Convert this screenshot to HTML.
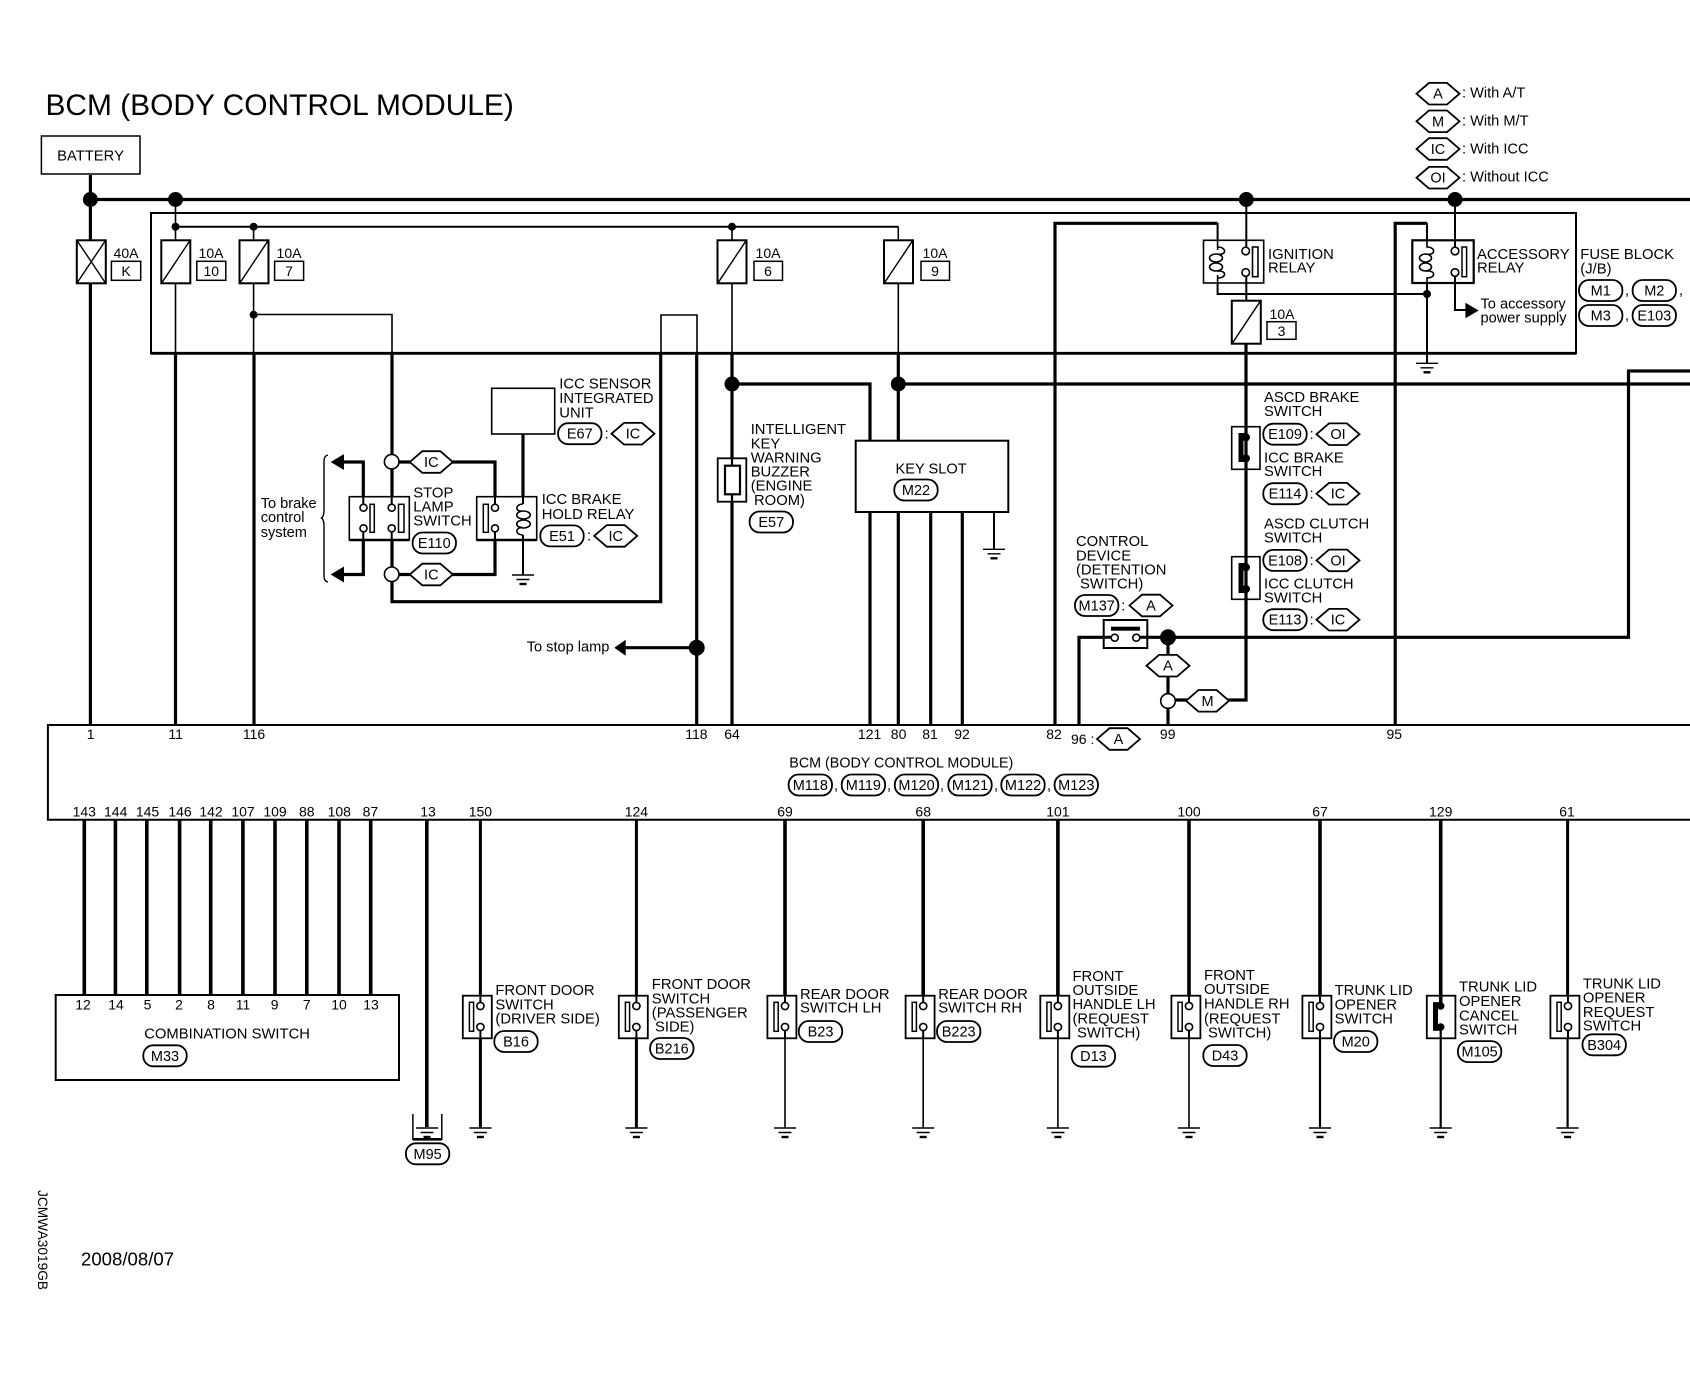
<!DOCTYPE html>
<html><head><meta charset="utf-8"><title>BCM (BODY CONTROL MODULE)</title>
<style>
html,body{margin:0;padding:0;background:#fff;width:1690px;height:1376px;overflow:hidden}
svg{display:block}
text{font-family:"Liberation Sans",sans-serif;fill:#000;font-size:14.8px}
.c{text-anchor:middle;font-size:14.5px}
.n{text-anchor:middle;font-size:14px}
.w{fill:none;stroke:#000}
.b{fill:#fff;stroke:#000;stroke-width:1.6}
</style></head><body>
<svg width="1690" height="1376" viewBox="0 0 1690 1376" xmlns="http://www.w3.org/2000/svg">
<defs>
<polygon id="h" points="-21.5,0 -9,-10.8 9,-10.8 21.5,0 9,10.8 -9,10.8" fill="#fff" stroke="#000" stroke-width="1.8"/>
<rect id="p" x="-21.7" y="-10.5" width="43.4" height="21" rx="10" ry="10" fill="#fff" stroke="#000" stroke-width="1.8"/>
<g id="g"><path d="M-11,0H11M-6.5,4.5H6.5" stroke="#000" stroke-width="1.4" fill="none"/><path d="M-3.5,9H3.5" stroke="#000" stroke-width="2.4" fill="none"/></g>
<g id="s"><rect x="-17.6" y="0" width="29" height="42.6" fill="#fff" stroke="#000" stroke-width="1.8"/><rect x="-11" y="6.6" width="4.2" height="29" fill="#fff" stroke="#000" stroke-width="1.5"/><path d="M0,0V7M0,34.5V42.6" stroke="#000" stroke-width="2" fill="none"/><circle cx="0" cy="10.3" r="3.6" fill="#fff" stroke="#000" stroke-width="1.6"/><circle cx="0" cy="31.3" r="3.6" fill="#fff" stroke="#000" stroke-width="1.6"/></g>
<g id="f"><rect x="-14.5" y="0" width="29" height="43" fill="#fff" stroke="#000" stroke-width="2"/><path d="M-14,42.5L14,0.5" stroke="#000" stroke-width="1.4"/></g>
</defs>

<!-- fuse block and BCM box -->
<rect x="151" y="213" width="1425" height="140.3" fill="none" stroke="#000" stroke-width="2"/>
<path class="w" stroke-width="2.8" d="M151,353.3H1576"/>
<path class="w" stroke-width="2" d="M1690,725H47.9V819.7H1690"/>

<!-- thin wires -->
<path class="w" stroke-width="1.6" d="M175.5,199V283M175.5,283V353M253.6,226.7V240M253.6,283V353M253.6,314.5H392V353M661,353V315H697V353M732,226.7V458M898.3,226.7V240M898.3,283V353"/>
<path class="w" stroke-width="2" d="M175.5,226.7H898.3M1246.3,199V240M1246.3,283V300.7M1455,199V240M1455,283V310H1466M1217.6,223V294H1427M1427,223V363M523,540V575M994,512V549"/>
<!-- thick wires -->
<path class="w" stroke-width="3.2" d="M90.4,175V725M90.4,199.5H1690M175.5,353V725M254,353V725M392,353V497M392,540V601.7H660.7V353M696.7,353V725M625,647.7H696.7M523,434V497M363.3,497V462H344M363.3,540V574.5H344M399,462H495V497M399,574.5H495V540M732,353V458M732,501V725M732,384H870V441M870,512V725M898.3,353V441M898.3,512V725M898.3,384H1690M930.7,512V725M962.3,512V725M1055,725V223.3H1217.6M1395.2,725V223.3H1427M1246,343V700H1176M1079,725V637.3H1628.5V371H1690M1168,637V725"/>
<path class="w" stroke-width="3.6" d="M84.3,820V995M115.4,820V995M146.8,820V995M179.6,820V995M210.7,820V995M242.9,820V995M275,820V995M306.8,820V995M339,820V995M370.7,820V995M426.8,820V1127M785,820V996M923.2,820V996M1057.9,820V996M1189,820V996M1320,820V996M1440.7,820V1003"/>
<path class="w" stroke-width="3" d="M480.4,820V1128M636.4,820V1128M1567.6,820V996"/>
<path class="w" stroke-width="1.6" d="M785,1038V1128M923.2,1038V1128M1057.9,1038V1128M1189,1038V1128"/>
<path class="w" stroke-width="2.2" d="M1320,1038V1128M1440.7,1030V1128M1567.6,1038V1128"/>

<!-- dots -->
<g fill="#000">
<circle cx="90.4" cy="199.5" r="7.5"/><circle cx="175.5" cy="199.5" r="7.5"/><circle cx="1246.3" cy="199.5" r="7.5"/><circle cx="1455" cy="199.5" r="7.5"/>
<circle cx="175.5" cy="226.7" r="4"/><circle cx="253.6" cy="226.7" r="4"/><circle cx="732" cy="226.7" r="4"/><circle cx="253.6" cy="314.7" r="4"/>
<circle cx="1427" cy="294" r="4"/>
<circle cx="732" cy="384" r="7.5"/><circle cx="898.3" cy="384" r="7.5"/><circle cx="696.7" cy="647.7" r="8"/><circle cx="1168" cy="637.3" r="8"/>
<polygon points="614.3,647.7 625.7,639.7 625.7,655.7"/>
<polygon points="330.7,462 344,454 344,470"/><polygon points="330.7,574.5 344,566.5 344,582.5"/>
<polygon points="1478.7,310.5 1465.4,302.7 1465.4,318.3"/>
</g>
<circle class="b" cx="391.7" cy="461.7" r="7.3"/><circle class="b" cx="391.7" cy="574.3" r="7.3"/><circle class="b" cx="1168" cy="701" r="7.3"/>

<!-- title -->
<text x="45.5" y="115" style="font-size:29.9px">BCM (BODY CONTROL MODULE)</text>
<rect x="41.4" y="136" width="98.6" height="38" fill="#fff" stroke="#000" stroke-width="1.5"/>
<text x="90.5" y="160.5" text-anchor="middle" style="font-size:14.8px">BATTERY</text>

<!-- legend -->
<use href="#h" x="1438" y="93.7"/><text class="c" x="1438" y="98.7">A</text><text x="1462" y="97.3" style="font-size:14.6px">: With A/T</text>
<use href="#h" x="1438" y="121.3"/><text class="c" x="1438" y="126.3">M</text><text x="1462" y="125.3" style="font-size:14.6px">: With M/T</text>
<use href="#h" x="1438" y="149"/><text class="c" x="1438" y="154">IC</text><text x="1462" y="153.3" style="font-size:14.6px">: With ICC</text>
<use href="#h" x="1438" y="177.7"/><text class="c" x="1438" y="182.7">OI</text><text x="1462" y="181.7" style="font-size:14.6px">: Without ICC</text>

<!-- fuses -->
<rect x="76.8" y="240.3" width="29" height="43" fill="#fff" stroke="#000" stroke-width="2"/><path d="M77,283L105.5,240.5M77,240.5L105.5,283" stroke="#000" stroke-width="1.4"/>
<text class="n" x="126" y="258">40A</text><rect x="111.4" y="261.3" width="29.3" height="19" fill="#fff" stroke="#000" stroke-width="1.5"/><text class="n" x="126" y="276">K</text>
<use href="#f" x="175.8" y="240.3"/><text class="n" x="211" y="258">10A</text><rect x="196.8" y="261.3" width="29" height="19" fill="#fff" stroke="#000" stroke-width="1.5"/><text class="n" x="211.3" y="276">10</text>
<use href="#f" x="254" y="240.3"/><text class="n" x="289" y="258">10A</text><rect x="274.6" y="261.3" width="29" height="19" fill="#fff" stroke="#000" stroke-width="1.5"/><text class="n" x="289" y="276">7</text>
<use href="#f" x="732" y="240.3"/><text class="n" x="768" y="258">10A</text><rect x="754" y="261.3" width="28.5" height="19" fill="#fff" stroke="#000" stroke-width="1.5"/><text class="n" x="768" y="276">6</text>
<use href="#f" x="898.5" y="240.3"/><text class="n" x="935" y="258">10A</text><rect x="921" y="261.3" width="28.5" height="19" fill="#fff" stroke="#000" stroke-width="1.5"/><text class="n" x="935" y="276">9</text>
<use href="#f" x="1246.3" y="300.7"/><text class="n" x="1282" y="319">10A</text><rect x="1267" y="321.7" width="29" height="17.6" fill="#fff" stroke="#000" stroke-width="1.5"/><text class="n" x="1281.5" y="336">3</text>

<!-- ignition relay -->
<rect x="1203.5" y="240.3" width="60.2" height="42.7" fill="#fff" stroke="#000" stroke-width="1.6"/>
<path class="w" stroke-width="1.6" d="M1217.6,240V247C1227,247 1227,256 1217,254M1217.6,283V278C1227,278 1227,270 1217,271M1217.6,247V250M1217.6,275V278"/>
<ellipse class="w" stroke-width="1.6" cx="1216" cy="258" rx="6.5" ry="4"/><ellipse class="w" stroke-width="1.6" cx="1216" cy="267" rx="6.5" ry="4"/>
<rect x="1252.5" y="247" width="5.5" height="29.7" fill="#fff" stroke="#000" stroke-width="1.6"/>
<path class="w" stroke-width="2" d="M1246.3,240V247M1246.3,276V283"/>
<circle class="b" cx="1245.7" cy="251" r="3.8"/><circle class="b" cx="1245.7" cy="272.5" r="3.8"/>
<text x="1268" y="259">IGNITION</text><text x="1268" y="272.7">RELAY</text>

<!-- accessory relay -->
<rect x="1412.3" y="240.3" width="61.4" height="42.7" fill="#fff" stroke="#000" stroke-width="2.2"/>
<path class="w" stroke-width="1.6" d="M1427,240V247C1436,247 1436,256 1426,254M1427,283V278C1436,278 1436,270 1426,271"/>
<ellipse class="w" stroke-width="1.6" cx="1425.5" cy="258" rx="6" ry="4"/><ellipse class="w" stroke-width="1.6" cx="1425.5" cy="267" rx="6" ry="4"/>
<rect x="1462" y="247" width="4.6" height="29.7" fill="#fff" stroke="#000" stroke-width="1.5"/>
<path class="w" stroke-width="2" d="M1455,240V247M1455,276V283"/>
<circle class="b" cx="1455" cy="251" r="3.8"/><circle class="b" cx="1455" cy="272.5" r="3.8"/>
<text x="1477" y="259">ACCESSORY</text><text x="1477" y="272.7">RELAY</text>
<use href="#g" x="1427" y="363.3"/>
<text x="1480.5" y="308.3" style="font-size:14.6px">To accessory</text><text x="1480.5" y="322.7" style="font-size:14.6px">power supply</text>
<text x="1580.3" y="259">FUSE BLOCK</text><text x="1580.3" y="273.3">(J/B)</text>
<use href="#p" x="1600.7" y="290.5"/><text class="c" x="1600.7" y="295.5">M1</text><text class="c" x="1627" y="295">,</text>
<use href="#p" x="1654.3" y="290.5"/><text class="c" x="1654.3" y="295.5">M2</text><text class="c" x="1681" y="295">,</text>
<use href="#p" x="1600.7" y="315.5"/><text class="c" x="1600.7" y="320.5">M3</text><text class="c" x="1627" y="320">,</text>
<use href="#p" x="1654.3" y="315.5"/><text class="c" x="1654.3" y="320.5">E103</text>

<!-- ICC sensor -->
<rect x="491.7" y="388.3" width="63" height="45.7" fill="#fff" stroke="#000" stroke-width="1.6"/>
<text x="559.3" y="388.7">ICC SENSOR</text><text x="559.3" y="403">INTEGRATED</text><text x="559.3" y="417.3">UNIT</text>
<use href="#p" x="579.8" y="433.7"/><text class="c" x="579.8" y="438.7">E67</text><text class="c" x="606.7" y="438.5">:</text>
<use href="#h" x="633" y="433.7"/><text class="c" x="633" y="438.7">IC</text>

<!-- stop lamp -->
<use href="#h" x="431.3" y="462"/><text class="c" x="431.3" y="467">IC</text>
<use href="#h" x="431.3" y="574.5"/><text class="c" x="431.3" y="579.5">IC</text>
<rect x="349.3" y="496.7" width="60" height="43.3" fill="#fff" stroke="#000" stroke-width="1.6"/>
<path class="w" stroke-width="2.6" d="M349.3,540H409.3"/>
<path class="w" stroke-width="2" d="M363.3,497V504M363.3,532V540M391.7,497V504M391.7,532V540"/>
<rect x="370" y="504.3" width="4.3" height="28" fill="#fff" stroke="#000" stroke-width="1.5"/>
<rect x="398.5" y="504.3" width="5.5" height="28" fill="#fff" stroke="#000" stroke-width="1.5"/>
<circle class="b" cx="363.5" cy="507.7" r="3.5"/><circle class="b" cx="363.5" cy="528.3" r="3.5"/><circle class="b" cx="391.7" cy="507.7" r="3.5"/><circle class="b" cx="391.7" cy="528.3" r="3.5"/>
<rect x="476.7" y="496.7" width="60" height="43.3" fill="#fff" stroke="#000" stroke-width="1.6"/>
<path class="w" stroke-width="2.6" d="M476.7,540H536.7"/>
<path class="w" stroke-width="2" d="M495,497V504M495,532V540M523,497V504M523,535V540"/>
<rect x="483.3" y="504.3" width="5" height="28" fill="#fff" stroke="#000" stroke-width="1.5"/>
<circle class="b" cx="495" cy="507.7" r="3.5"/><circle class="b" cx="495" cy="528.3" r="3.5"/>
<path class="w" stroke-width="1.6" d="M523,504C515,504 515,512 522,511M523,535C515,535 515,528 522,527"/>
<ellipse class="w" stroke-width="1.6" cx="523.5" cy="515" rx="6.8" ry="4"/><ellipse class="w" stroke-width="1.6" cx="523.5" cy="524" rx="6.8" ry="4"/>
<use href="#g" x="523" y="575"/>
<text x="413.3" y="497.3">STOP</text><text x="413.3" y="511.7">LAMP</text><text x="413.3" y="525.7">SWITCH</text>
<use href="#p" x="434.3" y="543"/><text class="c" x="434.3" y="548">E110</text>
<text x="541.7" y="504">ICC BRAKE</text><text x="541.7" y="519">HOLD RELAY</text>
<use href="#p" x="562" y="535.9"/><text class="c" x="562" y="541">E51</text><text class="c" x="589" y="540.5">:</text>
<use href="#h" x="615.7" y="535.9"/><text class="c" x="615.7" y="541">IC</text>
<text x="260.7" y="508" style="font-size:14.6px">To brake</text><text x="260.7" y="522" style="font-size:14.6px">control</text><text x="260.7" y="537" style="font-size:14.6px">system</text>
<path class="w" stroke-width="1.4" d="M328,455C324,456 324,459 324,463V510C324,514 323,517 321.5,518C323,519 324,522 324,526V574C324,578 324,581 328,582"/>
<text x="526.7" y="651.7" style="font-size:14.6px">To stop lamp</text>

<!-- buzzer -->
<rect x="717.7" y="458.3" width="28.6" height="43.4" fill="#fff" stroke="#000" stroke-width="1.8"/>
<rect x="725" y="465.7" width="15" height="28.6" fill="#fff" stroke="#000" stroke-width="2.2"/>
<path class="w" stroke-width="2.2" d="M732,458V466M732,494V502"/>
<text x="750.7" y="434">INTELLIGENT</text><text x="750.7" y="448.3">KEY</text><text x="750.7" y="462.7">WARNING</text><text x="750.7" y="476.7">BUZZER</text><text x="750.7" y="490.7">(ENGINE</text><text x="754" y="505">ROOM)</text>
<use href="#p" x="771.3" y="522"/><text class="c" x="771.3" y="527">E57</text>

<!-- key slot -->
<rect x="855.7" y="440.7" width="152.6" height="71.3" fill="#fff" stroke="#000" stroke-width="2"/>
<text x="895.5" y="473.3" style="font-size:14.6px">KEY SLOT</text>
<use href="#p" x="916" y="490"/><text class="c" x="916" y="495">M22</text>
<use href="#g" x="994" y="549.3"/>

<!-- ASCD switches -->
<rect x="1231.7" y="426.7" width="28.3" height="42.6" fill="none" stroke="#000" stroke-width="1.6"/>
<rect x="1231.7" y="556.7" width="28.3" height="42.6" fill="none" stroke="#000" stroke-width="1.6"/>
<g fill="#000"><circle cx="1246" cy="437.3" r="4"/><circle cx="1246" cy="458.3" r="4"/><rect x="1238.5" y="433" width="5" height="29"/><rect x="1238.5" y="433" width="7.5" height="4"/><rect x="1238.5" y="458" width="7.5" height="4"/>
<circle cx="1246" cy="567.3" r="4"/><circle cx="1246" cy="589" r="4"/><rect x="1238.5" y="563" width="5" height="30"/><rect x="1238.5" y="563" width="7.5" height="4"/><rect x="1238.5" y="589" width="7.5" height="4"/></g>
<text x="1264" y="402">ASCD BRAKE</text><text x="1264" y="416">SWITCH</text>
<use href="#p" x="1285" y="434.2"/><text class="c" x="1285" y="439.2">E109</text><text class="c" x="1311.7" y="439">:</text><use href="#h" x="1338" y="434.2"/><text class="c" x="1338" y="439.2">OI</text>
<text x="1264" y="462.3">ICC BRAKE</text><text x="1264" y="476">SWITCH</text>
<use href="#p" x="1285" y="493.7"/><text class="c" x="1285" y="498.7">E114</text><text class="c" x="1311.7" y="498.5">:</text><use href="#h" x="1338" y="493.7"/><text class="c" x="1338" y="498.7">IC</text>
<text x="1264" y="528.3">ASCD CLUTCH</text><text x="1264" y="542.3">SWITCH</text>
<use href="#p" x="1285" y="560.4"/><text class="c" x="1285" y="565.4">E108</text><text class="c" x="1311.7" y="565">:</text><use href="#h" x="1338" y="560.4"/><text class="c" x="1338" y="565.4">OI</text>
<text x="1264" y="588.3">ICC CLUTCH</text><text x="1264" y="602.3">SWITCH</text>
<use href="#p" x="1285" y="619.7"/><text class="c" x="1285" y="624.7">E113</text><text class="c" x="1311.7" y="624.5">:</text><use href="#h" x="1338" y="619.7"/><text class="c" x="1338" y="624.7">IC</text>

<!-- control device -->
<text x="1076" y="546">CONTROL</text><text x="1076" y="560.3">DEVICE</text><text x="1076" y="574.7">(DETENTION</text><text x="1080" y="588.3">SWITCH)</text>
<use href="#p" x="1096.7" y="605.5"/><text class="c" x="1096.7" y="610.5">M137</text><text class="c" x="1123.3" y="610.3">:</text><use href="#h" x="1151" y="605.5"/><text class="c" x="1151" y="610.5">A</text>
<rect x="1103.7" y="620" width="43.6" height="28" fill="#fff" stroke="#000" stroke-width="2"/>
<rect x="1111" y="626.7" width="29" height="4" fill="#000"/>
<path class="w" stroke-width="3" d="M1103,637.3H1111M1140,637.3H1148"/>
<circle class="b" cx="1114.7" cy="637.7" r="3.5"/><circle class="b" cx="1136.3" cy="637.7" r="3.5"/>
<use href="#h" x="1168" y="665.7"/><text class="c" x="1168" y="670.7">A</text>
<use href="#h" x="1207.5" y="700.8"/><text class="c" x="1207.5" y="705.8">M</text>

<!-- BCM labels -->
<g>
<text class="n" x="90.7" y="739">1</text><text class="n" x="175.7" y="739">11</text><text class="n" x="254" y="739">116</text><text class="n" x="696.4" y="739">118</text><text class="n" x="732" y="739">64</text><text class="n" x="869.6" y="739">121</text><text class="n" x="898.6" y="739">80</text><text class="n" x="930" y="739">81</text><text class="n" x="962" y="739">92</text><text class="n" x="1054" y="739">82</text><text x="1071" y="744" style="font-size:14px">96 :</text><use href="#h" x="1118.5" y="739"/><text class="c" x="1118.5" y="744">A</text><text class="n" x="1167.7" y="739">99</text><text class="n" x="1394.3" y="739">95</text>
<text x="789.3" y="767.3" style="font-size:14.3px">BCM (BODY CONTROL MODULE)</text>
<use href="#p" x="810.3" y="785"/><text class="c" x="810.3" y="790">M118</text><text class="c" x="836" y="790">,</text>
<use href="#p" x="863.4" y="785"/><text class="c" x="863.4" y="790">M119</text><text class="c" x="889" y="790">,</text>
<use href="#p" x="916.5" y="785"/><text class="c" x="916.5" y="790">M120</text><text class="c" x="942" y="790">,</text>
<use href="#p" x="970" y="785"/><text class="c" x="970" y="790">M121</text><text class="c" x="996" y="790">,</text>
<use href="#p" x="1023" y="785"/><text class="c" x="1023" y="790">M122</text><text class="c" x="1049" y="790">,</text>
<use href="#p" x="1076.3" y="785"/><text class="c" x="1076.3" y="790">M123</text>
<text class="n" x="84.3" y="816.7">143</text><text class="n" x="115.7" y="816.7">144</text><text class="n" x="147.5" y="816.7">145</text><text class="n" x="180" y="816.7">146</text><text class="n" x="211" y="816.7">142</text><text class="n" x="243" y="816.7">107</text><text class="n" x="275" y="816.7">109</text><text class="n" x="306.8" y="816.7">88</text><text class="n" x="339.3" y="816.7">108</text><text class="n" x="370.4" y="816.7">87</text><text class="n" x="428" y="816.7">13</text><text class="n" x="480.4" y="816.7">150</text><text class="n" x="636.4" y="816.7">124</text><text class="n" x="785" y="816.7">69</text><text class="n" x="923.2" y="816.7">68</text><text class="n" x="1057.9" y="816.7">101</text><text class="n" x="1189" y="816.7">100</text><text class="n" x="1320" y="816.7">67</text><text class="n" x="1440.7" y="816.7">129</text><text class="n" x="1567" y="816.7">61</text>
</g>

<!-- combination switch -->
<rect x="55.7" y="995" width="343.3" height="85" fill="#fff" stroke="#000" stroke-width="2"/>
<text class="n" x="83" y="1009.3">12</text><text class="n" x="116" y="1009.3">14</text><text class="n" x="147.5" y="1009.3">5</text><text class="n" x="179" y="1009.3">2</text><text class="n" x="211" y="1009.3">8</text><text class="n" x="243" y="1009.3">11</text><text class="n" x="274.6" y="1009.3">9</text><text class="n" x="306.8" y="1009.3">7</text><text class="n" x="339" y="1009.3">10</text><text class="n" x="371" y="1009.3">13</text>
<text x="144.2" y="1038.3" style="font-size:14.8px">COMBINATION SWITCH</text>
<use href="#p" x="165" y="1055.8"/><text class="c" x="165" y="1060.8">M33</text>

<!-- M95 ground -->
<path class="w" stroke-width="1.5" d="M412.9,1114V1139.3H441.8V1114"/><path class="w" stroke-width="2.6" d="M412.9,1139.3H441.8"/>
<use href="#g" x="427" y="1128"/>
<use href="#p" x="427.6" y="1153.8"/><text class="c" x="427.6" y="1158.8">M95</text>

<!-- door switches -->
<use href="#s" x="480.4" y="995.7"/><use href="#g" x="480.4" y="1128"/>
<text x="495.4" y="995">FRONT DOOR</text><text x="495.4" y="1009.3">SWITCH</text><text x="495.4" y="1023.7">(DRIVER SIDE)</text>
<use href="#p" x="516" y="1041.5"/><text class="c" x="516" y="1046.5">B16</text>

<use href="#s" x="636.4" y="995.7"/><use href="#g" x="636.4" y="1128"/>
<text x="651.8" y="989">FRONT DOOR</text><text x="651.8" y="1003.7">SWITCH</text><text x="651.8" y="1017.3">(PASSENGER</text><text x="655" y="1031.7">SIDE)</text>
<use href="#p" x="671.8" y="1048.5"/><text class="c" x="671.8" y="1053.5">B216</text>

<use href="#s" x="785" y="995.7"/><use href="#g" x="785" y="1128"/>
<text x="800" y="999">REAR DOOR</text><text x="800" y="1012.7">SWITCH LH</text>
<use href="#p" x="820.5" y="1031.5"/><text class="c" x="820.5" y="1036.5">B23</text>

<use href="#s" x="923.2" y="995.7"/><use href="#g" x="923.2" y="1128"/>
<text x="938.2" y="999">REAR DOOR</text><text x="938.2" y="1012.7">SWITCH RH</text>
<use href="#p" x="958.7" y="1031.5"/><text class="c" x="958.7" y="1036.5">B223</text>

<use href="#s" x="1057.9" y="995.7"/><use href="#g" x="1057.9" y="1128"/>
<text x="1072.5" y="981">FRONT</text><text x="1072.5" y="995">OUTSIDE</text><text x="1072.5" y="1009">HANDLE LH</text><text x="1072.5" y="1023.3">(REQUEST</text><text x="1077" y="1037.7">SWITCH)</text>
<use href="#p" x="1093.4" y="1056.2"/><text class="c" x="1093.4" y="1061.2">D13</text>

<use href="#s" x="1189" y="995.7"/><use href="#g" x="1189" y="1128"/>
<text x="1204" y="980">FRONT</text><text x="1204" y="994">OUTSIDE</text><text x="1204" y="1008.3">HANDLE RH</text><text x="1204" y="1023.3">(REQUEST</text><text x="1208" y="1037.7">SWITCH)</text>
<use href="#p" x="1225" y="1055.5"/><text class="c" x="1225" y="1060.5">D43</text>

<use href="#s" x="1320" y="995.7"/><use href="#g" x="1320" y="1128"/>
<text x="1334.6" y="995">TRUNK LID</text><text x="1334.6" y="1009.3">OPENER</text><text x="1334.6" y="1023.7">SWITCH</text>
<use href="#p" x="1355.7" y="1041.5"/><text class="c" x="1355.7" y="1046.5">M20</text>

<rect x="1426.8" y="995.7" width="28.6" height="42.6" fill="none" stroke="#000" stroke-width="1.8"/>
<g fill="#000"><circle cx="1440.7" cy="1006" r="3.8"/><circle cx="1440.7" cy="1027" r="3.8"/><rect x="1433" y="1002.3" width="5" height="28.4"/><rect x="1433" y="1002.3" width="7" height="4"/><rect x="1433" y="1026.7" width="7" height="4"/></g>
<use href="#g" x="1440.7" y="1128"/>
<text x="1459" y="991.7">TRUNK LID</text><text x="1459" y="1006">OPENER</text><text x="1459" y="1020.3">CANCEL</text><text x="1459" y="1034.3">SWITCH</text>
<use href="#p" x="1479.6" y="1051.6"/><text class="c" x="1479.6" y="1056.6">M105</text>

<use href="#s" x="1568" y="995.7"/><use href="#g" x="1567.6" y="1128"/>
<text x="1582.9" y="988.3">TRUNK LID</text><text x="1582.9" y="1002.7">OPENER</text><text x="1582.9" y="1017">REQUEST</text><text x="1582.9" y="1030.7">SWITCH</text>
<use href="#p" x="1604.2" y="1044.8"/><text class="c" x="1604.2" y="1049.8">B304</text>

<!-- footer -->
<text x="81" y="1265.7" style="font-size:18.6px">2008/08/07</text>
<text transform="translate(38,1190) rotate(90)" textLength="100" lengthAdjust="spacingAndGlyphs" style="font-size:14px">JCMWA3019GB</text>
</svg>
</body></html>
